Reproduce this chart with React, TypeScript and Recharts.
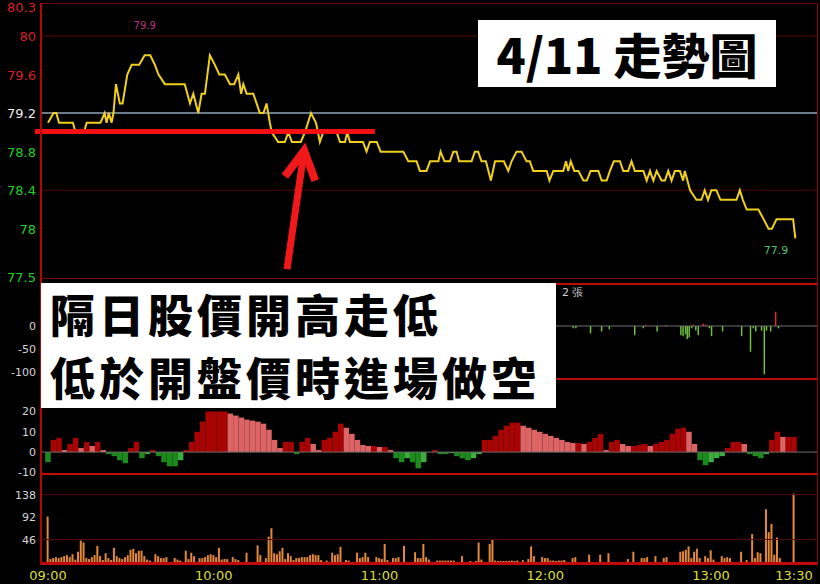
import React from 'react';
import {
  LineChart,
  Line,
  BarChart,
  Bar,
  Cell,
  XAxis,
  YAxis,
  ReferenceLine,
  ReferenceDot,
} from 'recharts';

// ---- price panel (minute after 09:00, price) ----
const priceTimes = [
  0, 2, 3, 4, 9, 10, 13, 14, 19, 20.5, 21.2, 22, 23, 23.7, 24.6, 26, 27, 28.7, 30.3, 33, 35, 37, 38.7, 40,
  42.3, 49.5, 51.4, 52.6, 54.4, 55.6, 56.8, 58.6, 60.4, 62, 64, 65.9, 67.4, 68.9, 69.9, 70.7, 71.9, 74.3,
  76.7, 78, 79.1, 80.3, 81, 83.3, 85.7, 87, 88.3, 91.5, 93, 95.2, 97, 98.4, 99.6, 104.5, 105.7, 107.5,
  108.3, 109.3, 114, 115.3, 116.5, 119, 120.4, 128.6, 130.4, 133.4, 134.6, 137, 138.3, 141.3, 142.1, 143.5,
  145.5, 146.7, 147.9, 148.8, 153.3, 154.5, 155.7, 156.9, 158.5, 160.3, 161.8, 165, 166.6, 167.8, 169.6,
  171.4, 173.2, 174.4, 175.6, 180.5, 181.5, 182.9, 186.5, 187.5, 188.3, 189.2, 190.5, 192, 193.8, 195,
  196.4, 199.2, 200.4, 202.2, 203.4, 204.8, 207, 208.2, 210, 211.2, 212.4, 215.5, 216.7, 217.9, 219.1,
  220.3, 222.1, 223.3, 224.5, 225.7, 226.9, 228.7, 229.9, 230.5, 232.4, 234.7, 236.5, 237.7, 238.9, 240.1,
  241.9, 243.4, 249.2, 250.4, 251.5, 252.9, 257.1, 259, 260.8, 262, 263.7, 269.7, 270.5,
];
const prices = [
  79.1, 79.2, 79.2, 79.1, 79.1, 79.0, 79.0, 79.1, 79.1, 79.2, 79.1, 79.2, 79.1, 79.2, 79.5, 79.3, 79.3, 79.6,
  79.7, 79.7, 79.8, 79.8, 79.7, 79.6, 79.5, 79.5, 79.3, 79.4, 79.2, 79.4, 79.4, 79.8, 79.7, 79.6, 79.6,
  79.5, 79.5, 79.6, 79.4, 79.5, 79.4, 79.4, 79.2, 79.2, 79.3, 79.1, 79.0, 78.9, 78.9, 79.0, 78.9, 78.9,
  79.0, 79.2, 79.1, 78.9, 79.0, 79.0, 78.9, 78.9, 79.0, 78.9, 78.9, 78.8, 78.9, 78.9, 78.8, 78.8, 78.7,
  78.7, 78.6, 78.6, 78.7, 78.7, 78.8, 78.7, 78.7, 78.8, 78.8, 78.7, 78.7, 78.8, 78.8, 78.7, 78.7, 78.5,
  78.7, 78.7, 78.6, 78.7, 78.8, 78.8, 78.7, 78.7, 78.6, 78.6, 78.5, 78.6, 78.6, 78.7, 78.6, 78.7, 78.6,
  78.6, 78.5, 78.5, 78.6, 78.6, 78.5, 78.5, 78.6, 78.7, 78.7, 78.6, 78.6, 78.7, 78.6, 78.6, 78.5, 78.6,
  78.5, 78.6, 78.5, 78.5, 78.6, 78.5, 78.6, 78.6, 78.5, 78.6, 78.4, 78.3, 78.3, 78.4, 78.3, 78.4, 78.4,
  78.3, 78.3, 78.4, 78.3, 78.2, 78.2, 78.1, 78.0, 78.0, 78.1, 78.1, 77.9,
];
const priceTicks = [77.5, 78, 78.4, 78.8, 79.2, 79.6, 80, 80.3];
const prevClose = 79.2;
const shortLevel = 79.01;

// ---- buy/sell panel (張) ----
const flowTimes = [
  190.1, 191.1, 196.4, 200.4, 203.2, 212.4, 215.5, 216.4, 220.5, 223.7, 229.1, 229.9, 230.8, 231.4, 232.1,
  233, 233.6, 234.5, 235.4, 237.2, 238.1, 239.4, 240.2, 244.2, 251.1, 254.3, 255.3, 256.2, 258.3, 259.3,
  260.1, 261.6, 263.4, 264.4,
];
const flowValues = [
  -5, -5, -16, -12, -7, -20, -5, 3, -12, 2, -20, -22, -18, -28, -25, -5, 3, -10, -20, 5, 3, -5, -22, -12,
  -22, -56, -5, -12, -10, -105, -10, -12, 31, -5,
];
const flowTicks = [-100, -50, 0];

// ---- oscillator panel, one value every 2 minutes ----
const OSC_STEP = 2;
const oscValues = [
  -5, 6, 7, 1, 4, 7, 2, 5, 3, 5, 1, -1, -2, -4, -5.5, 2, 5, -3, -1, 1, -2, -5, -7, -7, -4, 1, 5, 10, 15,
  20, 20, 20, 20, 19, 18, 17, 16, 15.5, 15, 14, 11, 6, 2, 5, 5, -1, 5, 7, 4, 1, 6, 7, 10, 14, 12, 9, 6,
  3.5, 3, 3, 2.5, 2.5, 1, -3, -5, -3, -5, -8, -5, 0, 1, -1, -1, -0.5, -2, -3, -4, -3, -1, 6, 6, 8, 11, 13,
  14.5, 14.5, 13, 12, 11, 10, 9, 8, 7, 6, 5, 4.5, 4.5, 4, 5, 7, 9, 1, 5, 6, 4, 3, 3, 3.5, 4, 3, 4, 5, 6,
  9, 11.5, 12, 10, 4, -4, -6.5, -5, -3, -2, 2, 5, 5, 4, -1, -2, -3, -1, 6, 10, 7.5, 7.5, 7.5,
];
const oscTicks = [-10, 0, 10, 20];

// ---- volume panel ----
const volTimes = [
  0, 1, 2, 3, 4, 5, 6, 7, 8, 9, 10, 11, 12, 13, 14, 15, 16, 17, 18, 19, 20, 21, 22, 23, 24, 25, 26, 27, 28,
  29, 30, 31, 32, 33, 34, 35, 36, 37, 39, 40, 41, 42, 43, 46, 47, 48, 50, 51, 52, 53, 55, 56, 57, 58, 59,
  60, 61, 62, 63, 64, 65, 67, 68, 69, 72, 76, 77, 79, 80, 81, 82, 83, 84, 85, 86, 87, 88, 89, 90, 91, 92,
  93, 94, 95, 96, 97, 98, 99, 101, 103, 104, 105, 106, 108, 109, 112, 113, 114, 115, 116, 119, 120, 121,
  122, 123, 125, 126, 127, 129, 133, 134, 135, 136, 137, 138, 141, 142, 143, 144, 145, 146, 147, 150, 153,
  155, 156, 157, 160, 161, 162, 163, 164, 165, 166, 167, 168, 169, 170, 172, 174, 175, 176, 179, 180, 181,
  182, 183, 184, 185, 186, 187, 190, 191, 196, 200, 203, 210, 212, 215, 216, 217, 220, 223, 224, 229, 230,
  231, 232, 233, 234, 235, 236, 238, 239, 240, 241, 244, 245, 246, 247, 251, 253, 255, 256, 257, 258, 260,
  261, 262, 263, 264, 265, 270,
];
const volValues = [
  93, 6, 8, 10, 8, 10, 12, 14, 10, 16, 5, 21, 44, 40, 8, 6, 10, 14, 33, 12, 4, 18, 8, 4, 29, 12, 8, 6, 10,
  14, 25, 27, 18, 23, 23, 12, 5, 3, 16, 12, 8, 8, 10, 8, 5, 3, 23, 6, 19, 12, 8, 8, 10, 14, 16, 14, 10, 29,
  5, 6, 6, 10, 6, 4, 19, 34, 14, 8, 52, 69, 18, 16, 22, 29, 6, 18, 12, 4, 8, 8, 10, 10, 10, 14, 16, 14, 14,
  4, 3, 19, 14, 16, 31, 4, 3, 19, 8, 10, 19, 10, 10, 8, 6, 37, 4, 8, 8, 10, 33, 20, 8, 8, 37, 10, 5, 3, 3,
  3, 3, 3, 3, 3, 12, 2, 2, 40, 5, 37, 47, 3, 2, 2, 2, 2, 2, 3, 2, 3, 4, 6, 32, 12, 10, 8, 8, 3, 3, 2, 3, 3,
  4, 8, 10, 15, 15, 18, 6, 21, 8, 8, 10, 12, 8, 10, 21, 22, 25, 32, 8, 21, 27, 8, 12, 8, 24, 5, 12, 8, 10,
  8, 21, 4, 57, 8, 20, 18, 108, 61, 78, 15, 50, 8, 140,
];
const volTicks = [46, 92, 138];

const timeTicks = [0, 60, 120, 180, 240, 270];
const timeLabels = ['09:00', '10:00', '11:00', '12:00', '13:00', '13:30'];

const X_DOMAIN = [-2.53, 278.7];
const FONT = 'DejaVu Sans, sans-serif';
const CJK = '"Noto Sans CJK TC", "Noto Sans CJK SC", sans-serif';

const priceData = priceTimes.map((t, i) => ({ t, p: prices[i] }));
const flowData = flowTimes.map((t, i) => ({ t, v: flowValues[i] }));
const oscData = oscValues.map((v, i) => ({ t: i * OSC_STEP, v }));
const volData = volTimes.map((t, i) => ({ t, v: volValues[i] }));

const priceTickColor = (v: number) => (v > prevClose ? '#d82020' : v === prevClose ? '#ececec' : '#22d022');

const PriceTick = ({ x, y, payload }: any) => (
  <text x={x} y={y} dy={5} textAnchor="end" fontSize={13} fontFamily={FONT} fill={priceTickColor(payload.value)}>
    {payload.value}
  </text>
);

const GrayTick = ({ x, y, payload }: any) => (
  <text x={x} y={y} dy={4} textAnchor="end" fontSize={11} fontFamily={FONT} fill="#d4d4d4">
    {payload.value}
  </text>
);

const TimeTick = ({ x, y, payload }: any) => (
  <text x={x} y={y} dy={10} textAnchor="middle" fontSize={13} fontFamily={FONT} fill="#dede3c">
    {timeLabels[timeTicks.indexOf(payload.value)]}
  </text>
);

const ArrowShape = (props: any) => {
  const { x1, y1, x2, y2 } = props;
  const ang = Math.atan2(y2 - y1, x2 - x1);
  const len = 32;
  const spread = 0.5;
  const ax = x2 - len * Math.cos(ang - spread);
  const ay = y2 - len * Math.sin(ang - spread);
  const bx = x2 - len * Math.cos(ang + spread);
  const by = y2 - len * Math.sin(ang + spread);
  return (
    <g>
      <line x1={x1} y1={y1} x2={x2} y2={y2} stroke="#f01818" strokeWidth={7} />
      <polyline points={`${ax},${ay} ${x2},${y2} ${bx},${by}`} fill="none" stroke="#f01818" strokeWidth={8} />
    </g>
  );
};

const oscColor = (i: number) => {
  const v = oscValues[i];
  const prev = i > 0 ? oscValues[i - 1] : v;
  if (v >= 0) return v >= prev ? '#a80404' : '#dc6464';
  return v <= prev ? '#1c8a1c' : '#3fac3f';
};

const hline = (top: number, h: number, color: string) => (
  <div style={{ position: 'absolute', left: 41, top, width: 777, height: h, background: color }} />
);

const hiddenX = (
  <XAxis dataKey="t" type="number" domain={X_DOMAIN} allowDataOverflow hide />
);

const boxLine = (top: number, text: string) => (
  <div
    style={{
      position: 'absolute',
      left: 9,
      top,
      fontFamily: CJK,
      fontWeight: 900,
      fontSize: 45,
      letterSpacing: 4,
      lineHeight: '45px',
      whiteSpace: 'nowrap',
    }}
  >
    {text}
  </div>
);

export default function App() {
  return (
    <div style={{ position: 'absolute', left: 0, top: 0, width: 820, height: 584, background: '#000', overflow: 'hidden' }}>
      {/* price panel */}
      <div style={{ position: 'absolute', left: 0, top: 0 }}>
        <LineChart width={820} height={284} data={priceData} margin={{ top: 7, right: 2, bottom: 7, left: 0 }}>
          {hiddenX}
          <YAxis
            type="number"
            domain={[77.5, 80.3]}
            ticks={priceTicks}
            interval={0}
            width={41}
            axisLine={false}
            tickLine={false}
            tickSize={3}
            tick={<PriceTick />}
            allowDataOverflow
          />
          <ReferenceLine y={80} stroke="#560808" />
          <ReferenceLine y={78.4} stroke="#560808" />
          <ReferenceLine y={prevClose} stroke="#8ea4bc" strokeWidth={1.5} />
          <Line type="linear" dataKey="p" stroke="#f0d01c" strokeWidth={2} dot={false} isAnimationActive={false} />
          <ReferenceDot x={35} y={80.11} r={0} label={{ value: '79.9', fill: '#b83480', fontSize: 10, fontFamily: FONT, position: 'center' }} />
          <ReferenceDot x={263.5} y={77.78} r={0} label={{ value: '77.9', fill: '#4cc06a', fontSize: 11, fontFamily: FONT, position: 'center' }} />
          <ReferenceLine
            segment={[{ x: -4.7, y: shortLevel }, { x: 118.3, y: shortLevel }]}
            stroke="#f21010"
            strokeWidth={5}
            ifOverflow="visible"
          />
          <ReferenceLine
            segment={[{ x: 86.5, y: 77.58 }, { x: 92.7, y: 78.81 }]}
            ifOverflow="visible"
            shape={ArrowShape}
          />
        </LineChart>
      </div>

      {/* buy / sell panel */}
      <div style={{ position: 'absolute', left: 0, top: 275 }}>
        <BarChart width={820} height={111} data={flowData} margin={{ top: 8, right: 2, bottom: 8, left: 0 }}>
          {hiddenX}
          <YAxis
            type="number"
            domain={[-113, 93.5]}
            ticks={flowTicks}
            interval={0}
            width={41}
            axisLine={false}
            tickLine={false}
            tickSize={3}
            tick={<GrayTick />}
            allowDataOverflow
          />
          <ReferenceLine y={0} stroke="#6e6e6e" />
          <Bar dataKey="v" barSize={2} isAnimationActive={false}>
            {flowData.map((d, i) => (
              <Cell key={i} fill={d.v >= 0 ? '#e02828' : '#72c03a'} />
            ))}
          </Bar>
        </BarChart>
      </div>

      {/* oscillator panel */}
      <div style={{ position: 'absolute', left: 0, top: 370 }}>
        <BarChart width={820} height={111} data={oscData} margin={{ top: 8, right: 2, bottom: 8, left: 0 }}>
          {hiddenX}
          <YAxis
            type="number"
            domain={[-10.3, 36.5]}
            ticks={oscTicks}
            interval={0}
            width={41}
            axisLine={false}
            tickLine={false}
            tickSize={3}
            tick={<GrayTick />}
            allowDataOverflow
          />
          <Bar dataKey="v" barSize={5.5} isAnimationActive={false}>
            {oscData.map((d, i) => (
              <Cell key={i} fill={oscColor(i)} />
            ))}
          </Bar>
          <ReferenceLine y={0} stroke="#6e6e6e" />
        </BarChart>
      </div>

      {/* volume panel */}
      <div style={{ position: 'absolute', left: 0, top: 466 }}>
        <BarChart width={820} height={118} data={volData} margin={{ top: 8, right: 2, bottom: 0, left: 0 }}>
          <XAxis
            dataKey="t"
            type="number"
            domain={X_DOMAIN}
            allowDataOverflow
            ticks={timeTicks}
            interval={0}
            height={22}
            axisLine={false}
            tickLine={false}
            tick={<TimeTick />}
          />
          <YAxis
            type="number"
            domain={[0, 180]}
            ticks={volTicks}
            interval={0}
            width={41}
            axisLine={false}
            tickLine={false}
            tickSize={3}
            tick={<GrayTick />}
            allowDataOverflow
          />
          <ReferenceLine y={46} stroke="#560808" />
          <ReferenceLine y={138} stroke="#560808" />
          <Bar dataKey="v" barSize={2} fill="#e4893c" isAnimationActive={false} />
        </BarChart>
      </div>

      {/* panel frames */}
      {hline(3, 1, '#6a0606')}
      {hline(278, 1, '#7a0808')}
      {hline(283, 2, '#c00a0a')}
      {hline(378, 2, '#c00a0a')}
      {hline(473, 2, '#c00a0a')}
      {hline(562, 3, '#c00a0a')}
      <div style={{ position: 'absolute', left: 40, top: 3, width: 2, height: 562, background: '#b00808' }} />
      <div style={{ position: 'absolute', left: 817, top: 3, width: 1, height: 562, background: '#8a0606' }} />

      <div style={{ position: 'absolute', left: 562, top: 285, fontSize: 11, fontFamily: FONT, color: '#cfcfcf' }}>2 張</div>

      {/* annotations */}
      <div
        style={{
          position: 'absolute',
          left: 478,
          top: 20,
          width: 298,
          height: 67,
          background: '#fff',
          color: '#000',
          fontFamily: CJK,
          fontWeight: 900,
          fontSize: 48,
          lineHeight: '67px',
          textAlign: 'center',
          whiteSpace: 'nowrap',
        }}
      >
        4/11 走勢圖
      </div>
      <div
        style={{
          position: 'absolute',
          left: 41,
          top: 283,
          width: 515,
          height: 125,
          background: '#fff',
          color: '#000',
        }}
      >
        {boxLine(8, '隔日股價開高走低')}
        {boxLine(71, '低於開盤價時進場做空')}
      </div>
    </div>
  );
}
